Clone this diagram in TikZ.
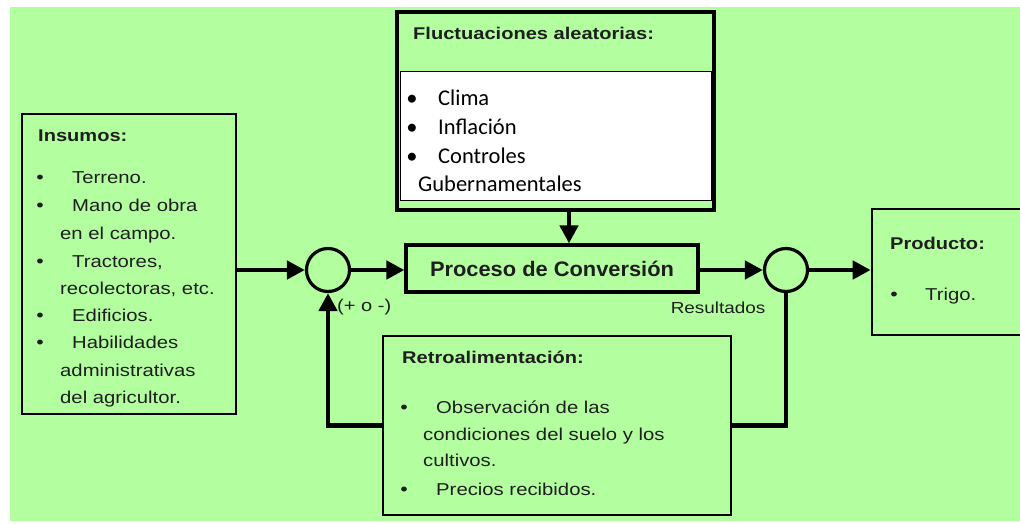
\documentclass[tikz,border=0pt]{standalone}
\usepackage{fontspec}
\setmainfont{Liberation Sans}[FakeStretch=1.18]
\newfontfamily\procf{Liberation Sans}[FakeStretch=1.04]
\newfontfamily\carl{Carlito}
\usetikzlibrary{arrows.meta}
\definecolor{bg}{HTML}{B3FF9F}
\definecolor{txt}{HTML}{1E1E1E}
\begin{document}
\begin{tikzpicture}[x=1pt,y=-1pt,
 box/.style={draw=black, line width=2.6pt, fill=bg, inner sep=0pt},
 sumc/.style={circle, draw=black, line width=3.2pt, minimum size=43pt, inner sep=0pt, fill=bg},
 flow/.style={line width=4.5pt, -{Triangle[length=18pt,width=18pt]}},
 fb/.style={line width=4.5pt},
 tl/.style={anchor=base west, inner sep=0pt, text=txt, font=\fontsize{17.2}{20}\selectfont},
 ttl/.style={anchor=base west, inner sep=0pt, text=txt, font=\bfseries\fontsize{17}{20}\selectfont},
 bul/.style={anchor=base, inner sep=0pt, text=txt, font=\fontsize{18}{20}\selectfont},
 cl/.style={anchor=base west, inner sep=0pt, font=\carl\fontsize{22.5}{26}\selectfont},
 small/.style={inner sep=0pt, text=txt, font=\fontsize{16}{18}\selectfont},
]
\useasboundingbox (0,0) rectangle (1020,523);
\fill[white] (0,0) rectangle (1020,523);
\fill[bg] (10,7) rectangle (1020,521);

% boxes
\node[box, minimum width=214pt, minimum height=300pt] (ins) at (129,264) {};
\node[box, line width=3.5pt, minimum width=317pt, minimum height=198pt] (fl) at (555.5,111) {};
\node[draw=black, line width=1pt, fill=white, inner sep=0pt, minimum width=311pt, minimum height=129pt] (wh) at (555.5,135.5) {};
\node[box, line width=3.2pt, minimum width=292pt, minimum height=47pt, text=txt, font=\procf\bfseries\fontsize{21}{24}\selectfont] (proc) at (552,268.5) {Proceso de Conversión};
\node[box, minimum width=150pt, minimum height=126pt] (prod) at (947,272) {};
\node[box, minimum width=348pt, minimum height=179pt] (retro) at (557,425.5) {};
\node[sumc] (c1) at (328,270) {};
\node[sumc] (c2) at (786,270) {};

% Insumos text
\node[ttl] (insT) at (38,141) {Insumos:};
\foreach \y/\n in {183/b1,211/b2,267/b3,321/b4,348/b5}
  \node[bul] (\n) at (40,\y) {\textbullet};
\node[tl] (i1) at (72,183) {Terreno.};
\node[tl] (i2) at (72,211) {Mano de obra};
\node[tl] (i3) at (60,239) {en el campo.};
\node[tl] (i4) at (72,267) {Tractores,};
\node[tl] (i5) at (60,294) {recolectoras, etc.};
\node[tl] (i6) at (72,321) {Edificios.};
\node[tl] (i7) at (72,348) {Habilidades};
\node[tl] (i8) at (60,376) {administrativas};
\node[tl] (i9) at (60,403) {del agricultor.};

% Fluctuaciones text
\node[ttl] (flT) at (413,39) {Fluctuaciones aleatorias:};
\foreach \y/\n in {105/f1,134/f2,163/f3}
  \node[anchor=base, inner sep=0pt, font=\carl\fontsize{22.5}{26}\selectfont] (\n) at (412,\y) {\textbullet};
\node[cl] (w1) at (438,105) {Clima};
\node[cl] (w2) at (438,134) {Inflación};
\node[cl] (w3) at (438,163) {Controles};
\node[cl] (w4) at (418,191) {Gubernamentales};

% Producto text
\node[ttl] (prT) at (890,249) {Producto:};
\node[bul] (pb) at (894,300) {\textbullet};
\node[tl] (p1) at (925,300) {Trigo.};

% Retro text
\node[ttl] (reT) at (402,363) {Retroalimentación:};
\node[bul] (rb1) at (404,413) {\textbullet};
\node[tl] (r1) at (436,413) {Observación de las};
\node[tl] (r2) at (423,440) {condiciones del suelo y los};
\node[tl] (r3) at (423,466) {cultivos.};
\node[bul] (rb2) at (404,495) {\textbullet};
\node[tl] (r4) at (436,495) {Precios recibidos.};

% labels
\node[small, anchor=west, font=\fontsize{17}{18}\selectfont] (pm) at (337,307) {(+ o -)};
\node[small] (res) at (718,308) {Resultados};

% connectors
\draw[flow] (ins.east |- c1.west) -- (c1.west);
\draw[flow] (c1.east) -- (proc.west |- c1.east);
\draw[flow] ([xshift=13.5pt]fl.south) -- ([xshift=17pt]proc.north);
\draw[flow] (proc.east |- c2.west) -- (c2.west);
\draw[flow] (c2.east) -- (prod.west |- c2.east);
\draw[fb] (c2.south) |- (retro.east);
\draw[flow] (retro.west) -| (c1.south);
\end{tikzpicture}
\end{document}
